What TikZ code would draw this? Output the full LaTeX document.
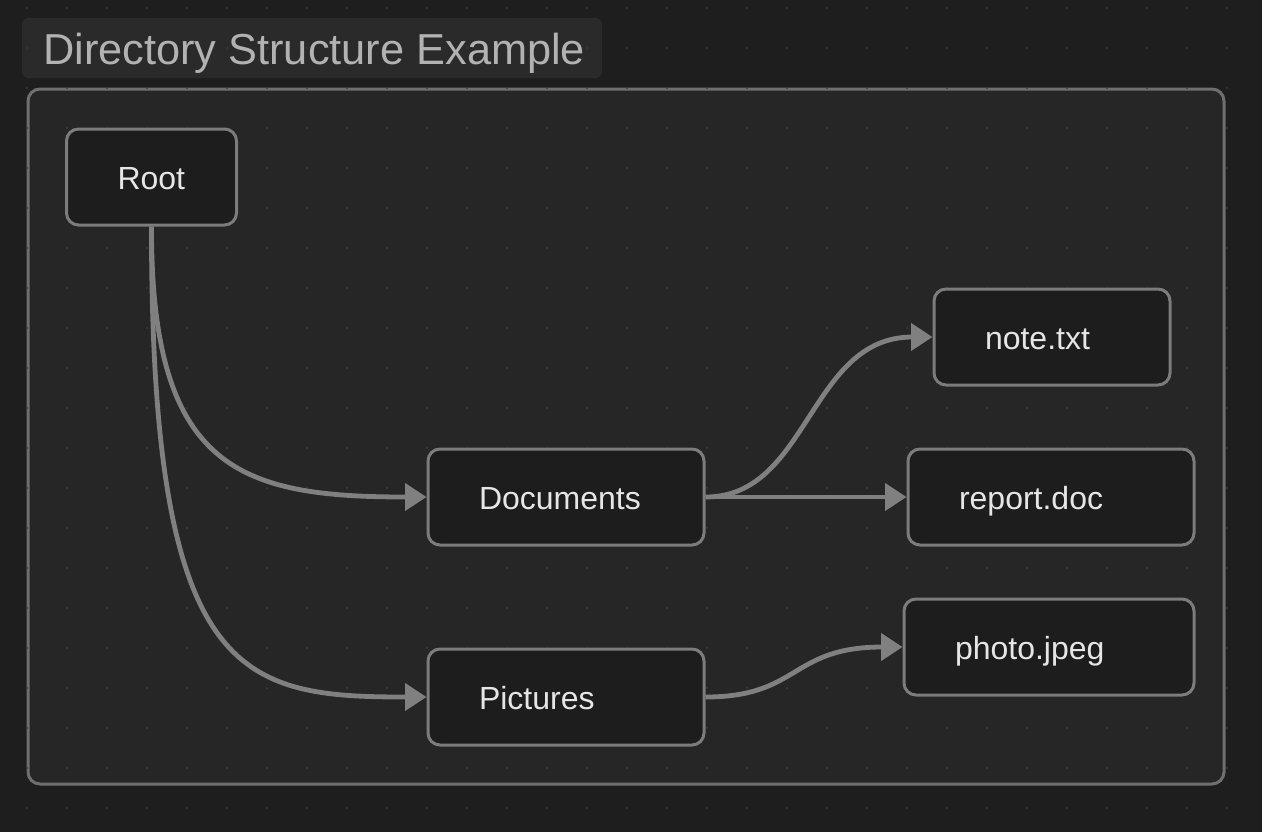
\documentclass[tikz,border=0pt]{standalone}
\usepackage{fontspec}
\setmainfont{Liberation Sans}
\usepackage{tikz}
\usetikzlibrary{arrows.meta}
\definecolor{canvas}{HTML}{1E1E1E}
\definecolor{panel}{HTML}{262626}
\definecolor{titlebg}{HTML}{2A2A2A}
\definecolor{boxfill}{HTML}{1D1D1D}
\definecolor{boxline}{HTML}{7C7C7C}
\definecolor{linkgray}{HTML}{808080}
\definecolor{dotgray}{HTML}{3A3A3A}
\definecolor{labeltext}{HTML}{E6E6E6}
\definecolor{titletext}{HTML}{B2B2B2}
\tikzstyle{entry} = [rectangle, rounded corners=9pt, minimum height=72pt, inner xsep=38.25pt, align=left, draw=boxline, line width=2.25pt, fill=boxfill, text=labeltext, font=\fontsize{24}{28}\selectfont, text height=20pt, text depth=2pt]
\tikzstyle{link} = [draw=linkgray, line width=3.6pt, -{Triangle[length=16pt,width=20pt]}]

\begin{document}
\begin{tikzpicture}[x=0.75pt, y=-0.75pt]

    \useasboundingbox (0, 0) rectangle (1262, 832);
    \fill[canvas] (0, 0) rectangle (1262, 832);

    % title and outer frame
    \fill[titlebg, rounded corners=4pt] (22, 18) rectangle (602, 78);
    \draw[draw=boxline!110, fill=panel, line width=2.25pt, rounded corners=9pt] (28, 89) rectangle (1224, 784);

    % dotted grid
    \foreach \i in {0,...,30}
        \foreach \j in {0,...,20}
            \fill[dotgray] (27+40*\i, 8+40*\j) circle (0.9pt);

    \node[anchor=west, text=titletext, inner sep=0pt, font=\fontsize{32.5}{36}\selectfont] (title) at (43, 53) {Directory Structure Example};

    \node(root)[entry, text width=51pt] at (151.5, 177) {Root};
    \node(documents)[entry, text width=130.5pt] at (566, 497) {Documents};
    \node(pictures)[entry, text width=130.5pt] at (566, 697) {Pictures};
    \node(note)[entry, text width=100.5pt] at (1052, 337) {note.txt};
    \node(report)[entry, text width=138pt] at (1051, 497) {report.doc};
    \node(photo)[entry, text width=141pt] at (1049, 647) {photo.jpeg};

    \draw[link] (root.south) .. controls (151, 470) and (240, 497) .. (documents.west);
    \draw[link] (root.south) .. controls (151, 680) and (240, 697) .. (pictures.west);
    \draw[link] (documents.east) .. controls (809, 497) and (809, 337) .. (note.west);
    \draw[link] (documents.east) -- (report.west);
    \draw[link] (pictures.east) .. controls (800, 697) and (790, 647) .. (photo.west);

\end{tikzpicture}
\end{document}
